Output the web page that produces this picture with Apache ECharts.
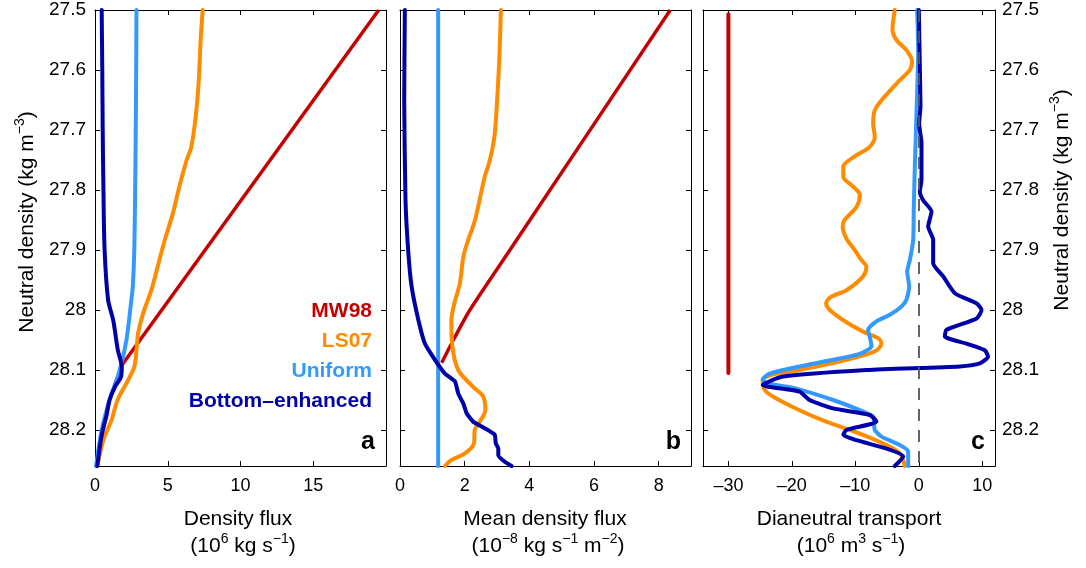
<!DOCTYPE html>
<html>
<head>
<meta charset="utf-8">
<script src="https://cdn.jsdelivr.net/npm/echarts@6/dist/echarts.min.js"></script>
<style>html,body{margin:0;padding:0;background:#fff}#c{width:1086px;height:568px}</style>
</head>
<body>
<div id="c"></div>
<script>
// ---- tick labels ----
const yTicks = [27.5, 27.6, 27.7, 27.8, 27.9, 28.0, 28.1, 28.2];
const aTicks = [0, 5, 10, 15];
const bTicks = [0, 2, 4, 6, 8];
const cTicks = [-30, -20, -10, 0, 10];
const seriesNames = ['MW98', 'LS07', 'Uniform', 'Bottom\u2013enhanced'];

// ---- panel a: density flux [value, neutral density] ----
const aMW98 = [[19.5, 27.5], [1.84, 28.092]];
const aLS07 = [[7.40, 27.5], [7.26, 27.55], [7.12, 27.622], [6.92, 27.678], [6.62, 27.728], [6.3, 27.75], [5.8, 27.794], [5.35, 27.839], [4.8, 27.883], [4.42, 27.917], [3.87, 27.967], [3.3, 28.006], [2.96, 28.039], [2.85, 28.067], [2.7, 28.095], [2.16, 28.122], [1.55, 28.15], [1.14, 28.183], [0.6, 28.215], [0.16, 28.26]];
const aUni = [[2.85, 27.5], [2.83, 27.6], [2.8, 27.7], [2.76, 27.8], [2.7, 27.9], [2.6, 27.96], [2.5, 27.983], [2.16, 28.05], [1.7, 28.1], [1.0, 28.15], [0.46, 28.2], [0.08, 28.26]];
const aBot = [[0.46, 27.5], [0.5, 27.6], [0.53, 27.7], [0.58, 27.8], [0.66, 27.9], [0.9, 27.983], [1.25, 28.017], [1.57, 28.067], [1.84, 28.095], [1.78, 28.112], [1.37, 28.128], [1.0, 28.15], [0.8, 28.175], [0.45, 28.21], [0.16, 28.26]];

// ---- panel b: mean density flux ----
const bMW98 = [[8.36, 27.5], [3.40, 27.9], [2.16, 28.0], [1.65, 28.05], [1.29, 28.088]];
const bUni = [[1.18, 27.5], [1.18, 28.26]];
const bLS07 = [[3.12, 27.5], [3.06, 27.594], [2.93, 27.706], [2.78, 27.75], [2.62, 27.778], [2.32, 27.85], [2.11, 27.883], [1.96, 27.911], [1.85, 27.956], [1.68, 27.989], [1.59, 28.017], [1.62, 28.061], [1.80, 28.1], [2.26, 28.128], [2.57, 28.144], [2.64, 28.167], [2.47, 28.186], [2.31, 28.2], [2.29, 28.222], [2.01, 28.239], [1.59, 28.25], [1.39, 28.26]];
const bBot = [[0.15, 27.5], [0.13, 27.65], [0.17, 27.817], [0.26, 27.906], [0.36, 27.961], [0.57, 28.017], [0.77, 28.056], [1.08, 28.083], [1.39, 28.106], [1.70, 28.119], [1.80, 28.139], [1.96, 28.156], [2.06, 28.172], [2.26, 28.186], [2.62, 28.197], [2.93, 28.208], [2.96, 28.222], [3.04, 28.231], [3.04, 28.242], [3.24, 28.253], [3.45, 28.26]];

// ---- panel c: dianeutral transport ----
const cMW98 = [[-30, 27.507], [-30, 28.105]];
const cLS07 = [[-3.79, 27.5], [-4.15, 27.533], [-3.52, 27.55], [-1.95, 27.567], [-1.05, 27.586], [-1.42, 27.6], [-3.0, 27.617], [-5.36, 27.644], [-6.94, 27.667], [-7.2, 27.689], [-6.94, 27.711], [-7.73, 27.728], [-10.1, 27.744], [-11.9, 27.761], [-11.9, 27.778], [-10.4, 27.794], [-9.3, 27.808], [-9.8, 27.828], [-11.7, 27.85], [-12.0, 27.861], [-11.4, 27.881], [-10.1, 27.9], [-9.04, 27.917], [-8.25, 27.928], [-8.78, 27.944], [-11.4, 27.967], [-13.8, 27.978], [-14.6, 27.989], [-14.0, 28.0], [-11.9, 28.017], [-8.78, 28.036], [-6.41, 28.047], [-5.89, 28.056], [-6.94, 28.069], [-12.5, 28.086], [-18.8, 28.1], [-23.2, 28.108], [-24.6, 28.117], [-24.3, 28.133], [-23.0, 28.144], [-18.8, 28.167], [-14.6, 28.186], [-9.3, 28.206], [-5.1, 28.225], [-3.0, 28.239], [-2.2, 28.26]];
const cUni = [[-0.26, 27.5], [-0.1, 27.567], [-0.37, 27.672], [-0.63, 27.761], [-0.79, 27.828], [-0.89, 27.883], [-1.42, 27.917], [-1.84, 27.936], [-1.52, 27.961], [-1.95, 27.983], [-2.73, 27.994], [-4.57, 28.008], [-6.68, 28.019], [-7.99, 28.033], [-7.62, 28.05], [-7.47, 28.061], [-9.3, 28.073], [-13.5, 28.083], [-18.8, 28.094], [-23.5, 28.106], [-24.6, 28.116], [-24.0, 28.122], [-19.3, 28.131], [-13.5, 28.15], [-9.3, 28.167], [-7.2, 28.178], [-6.94, 28.2], [-5.89, 28.211], [-3.0, 28.225], [-1.68, 28.236], [-1.68, 28.26]];
const cBot = [[0, 27.5], [0.16, 27.594], [0.26, 27.661], [0.05, 27.689], [0.42, 27.722], [0.42, 27.783], [0.16, 27.803], [0.68, 27.817], [2.0, 27.836], [1.47, 27.861], [2.26, 27.883], [2.26, 27.922], [3.84, 27.944], [5.68, 27.972], [9.1, 27.989], [9.88, 28.0], [9.1, 28.014], [4.36, 28.033], [4.1, 28.044], [7.52, 28.056], [10.4, 28.067], [10.9, 28.078], [9.6, 28.089], [6.47, 28.094], [-8.25, 28.1], [-21.4, 28.111], [-24.6, 28.125], [-18.8, 28.136], [-17.2, 28.15], [-13.5, 28.164], [-7.73, 28.175], [-6.68, 28.186], [-11.4, 28.2], [-11.9, 28.208], [-9.83, 28.217], [-5.1, 28.231], [-2.47, 28.244], [-3.79, 28.26]];

const COL = ['#c40000', '#ff8c00', '#3399ff', '#0000aa'];
const FONT = '"Liberation Sans", Arial, Helvetica, sans-serif';

const grids = [
  {left: 95, top: 10, width: 291, height: 456},
  {left: 400, top: 10, width: 291, height: 456},
  {left: 703, top: 10, width: 292, height: 456}
];
const xr = [[0, 20, aTicks], [0, 9, bTicks], [-34, 12, cTicks]];

const xAxis = [], yAxis = [];
function tickFmt(v) { return String(+(+v).toFixed(2)).replace('-', '\u2013'); }
for (let g = 0; g < 3; g++) {
  const [mn, mx, tk] = xr[g];
  ['bottom', 'top'].forEach(function (pos) {
    xAxis.push({
      type: 'value', gridIndex: g, position: pos, min: mn, max: mx,
      axisLine: {show: true, onZero: false, lineStyle: {color: '#000', width: 1}},
      axisTick: {show: true, inside: true, length: 5, customValues: tk, lineStyle: {color: '#000'}},
      axisLabel: {show: pos === 'bottom', customValues: tk, margin: 11, color: '#000', fontSize: 18, fontFamily: FONT, formatter: tickFmt},
      splitLine: {show: false}
    });
  });
  ['left', 'right'].forEach(function (pos) {
    const showLab = (g === 0 && pos === 'left') || (g === 2 && pos === 'right');
    yAxis.push({
      type: 'value', gridIndex: g, position: pos, min: 27.5, max: 28.26, inverse: true,
      axisLine: {show: true, onZero: false, lineStyle: {color: '#000', width: 1}},
      axisTick: {show: true, inside: true, length: 5, customValues: yTicks, lineStyle: {color: '#000'}},
      axisLabel: {show: showLab, customValues: yTicks, margin: pos === 'left' ? 9 : 7, color: '#000', fontSize: 19, fontFamily: FONT, formatter: tickFmt},
      splitLine: {show: false}
    });
  });
}

function line(name, data, g, ci, extra) {
  return Object.assign({
    name: name, type: 'line', data: data, xAxisIndex: g * 2, yAxisIndex: g * 2,
    showSymbol: false, symbol: 'none', smooth: 0.3, clip: true,
    lineStyle: {color: COL[ci], width: 4, cap: 'round', join: 'round'},
    itemStyle: {color: COL[ci]}, animation: false
  }, extra || {});
}

const series = [
  line(seriesNames[0], aMW98, 0, 0, {smooth: false, lineStyle: {color: COL[0], width: 3.5}}),
  line(seriesNames[1], aLS07, 0, 1),
  line(seriesNames[2], aUni, 0, 2),
  line(seriesNames[3], aBot, 0, 3),
  line(seriesNames[0], bMW98, 1, 0, {smooth: 0.2, lineStyle: {color: COL[0], width: 3.5}}),
  line(seriesNames[1], bLS07, 1, 1),
  line(seriesNames[2], bUni, 1, 2, {smooth: false}),
  line(seriesNames[3], bBot, 1, 3, {smooth: 0.15}),
  line(seriesNames[0], cMW98, 2, 0, {smooth: false,
    markLine: {silent: true, symbol: 'none', animation: false, label: {show: false},
      lineStyle: {color: '#555', width: 1.8, type: [12, 9]}, data: [{xAxis: 0}]}}),
  line(seriesNames[1], cLS07, 2, 1),
  line(seriesNames[2], cUni, 2, 2, {smooth: 0.2}),
  line(seriesNames[3], cBot, 2, 3, {smooth: 0.2})
];

const sup = {fontSize: 14, fontFamily: FONT, fill: '#000', verticalAlign: 'top', lineHeight: 15};
const nrm = {fontSize: 21, fontFamily: FONT, fill: '#000', lineHeight: 28};
function txt(x, y, text, opts) {
  return Object.assign({type: 'text', x: x, y: y, silent: true,
    style: {text: text, fill: '#000', font: '21px ' + FONT, textAlign: 'center', textVerticalAlign: 'middle', rich: {n: nrm, s: sup}}}, opts || {});
}
const legY = [311, 341, 371, 401];
const graphic = [
  txt(238, 519, 'Density flux'),
  txt(243, 546, '{n|(10}{s|6}{n| kg s}{s|\u22121}{n|)}'),
  txt(545, 519, 'Mean density flux'),
  txt(548, 546, '{n|(10}{s|\u22128}{n| kg s}{s|\u22121}{n| m}{s|\u22122}{n|)}'),
  txt(849, 519, 'Dianeutral transport'),
  txt(851, 546, '{n|(10}{s|6}{n| m}{s|3}{n| s}{s|\u22121}{n|)}'),
  txt(27, 222, '{n|Neutral density (kg m}{s|\u22123}{n|)}', {rotation: Math.PI / 2}),
  txt(1062, 200, '{n|Neutral density (kg m}{s|\u22123}{n|)}', {rotation: Math.PI / 2})
];
seriesNames.forEach(function (n, i) {
  graphic.push({type: 'text', x: 372, y: legY[i], silent: true,
    style: {text: n, fill: COL[i], font: 'bold 21px ' + FONT, textAlign: 'right', textVerticalAlign: 'middle'}});
});
[['a', 375], ['b', 681], ['c', 985]].forEach(function (p) {
  graphic.push({type: 'text', x: p[1], y: 442, silent: true,
    style: {text: p[0], fill: '#000', font: 'bold 25px ' + FONT, textAlign: 'right', textVerticalAlign: 'middle'}});
});

const chart = echarts.init(document.getElementById('c'), null, {renderer: 'canvas'});
chart.setOption({
  animation: false,
  backgroundColor: '#fff',
  grid: grids,
  xAxis: xAxis,
  yAxis: yAxis,
  series: series,
  graphic: graphic
});
</script>
</body>
</html>
